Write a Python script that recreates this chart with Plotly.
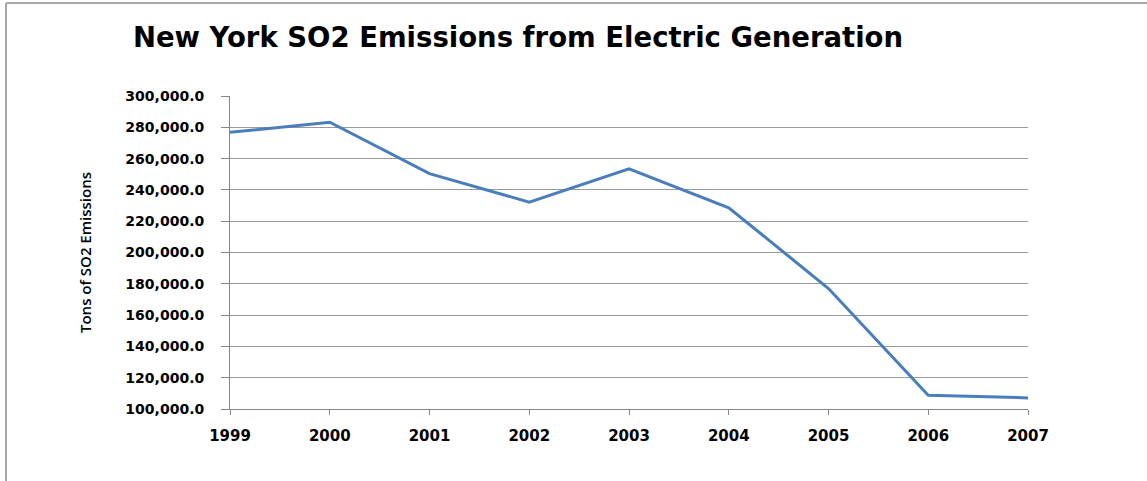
import plotly.graph_objects as go

years = [1999, 2000, 2001, 2002, 2003, 2004, 2005, 2006, 2007]
so2_tons = [276800, 283200, 250400, 232200, 253500, 228600, 177000, 108800, 107100]

title_text = "New York SO2 Emissions from Electric Generation"
y_title = "Tons of SO2 Emissions"

W, H = 1147, 481
L, R, T, B = 230, 119, 96, 72
pw, ph = W - L - R, H - T - B

fig = go.Figure()
fig.add_trace(go.Scatter(
    x=years, y=so2_tons, mode="lines",
    line=dict(color="#4a7ebb", width=3),
    showlegend=False, hoverinfo="x+y",
))

grid_col = "#9a9a9a"
axis_col = "#868686"

fig.update_layout(
    width=W, height=H,
    margin=dict(l=L, r=R, t=T, b=B, autoexpand=False),
    paper_bgcolor="white", plot_bgcolor="white",
    title=dict(
        text=title_text, xref="container", yref="container",
        x=518 / W, xanchor="center", y=1 - 37 / H, yanchor="middle",
        font=dict(family="DejaVu Sans", size=27.5, color="#000000", weight="bold"),
    ),
    xaxis=dict(
        range=[1999, 2007], tickmode="array", tickvals=years,
        ticktext=[str(y) for y in years],
        showgrid=False, zeroline=False,
        showline=True, linecolor=axis_col, linewidth=1,
        ticks="outside", ticklen=5, tickcolor=axis_col, tickwidth=1,
        ticklabelstandoff=8,
        tickfont=dict(family="DejaVu Sans", size=15, color="#000000", weight="bold"),
    ),
    yaxis=dict(
        range=[100000, 300000], dtick=20000, tick0=100000,
        tickformat=",.1f",
        showgrid=True, gridcolor=grid_col, gridwidth=1, zeroline=False,
        showline=True, linecolor=axis_col, linewidth=1,
        ticks="outside", ticklen=8, tickcolor=axis_col, tickwidth=1,
        ticklabelstandoff=14,
        tickfont=dict(family="DejaVu Sans", size=14, color="#000000", weight="bold"),
        title=dict(text=y_title, standoff=30,
                   font=dict(family="Open Sans", size=15, color="#000000", weight=600)),
    ),
    shapes=[
        dict(type="line", xref="paper", yref="paper",
             x0=(6 - L) / pw, x1=(W + 10 - L) / pw,
             y0=1 + (T - 3) / ph, y1=1 + (T - 3) / ph,
             line=dict(color="#a8a8a8", width=2)),
        dict(type="line", xref="paper", yref="paper",
             x0=(6 - L) / pw, x1=(6 - L) / pw,
             y0=1 + (T - 3) / ph, y1=-(B + 10) / ph,
             line=dict(color="#a8a8a8", width=2)),
    ],
)

fig.write_html("out.html")
